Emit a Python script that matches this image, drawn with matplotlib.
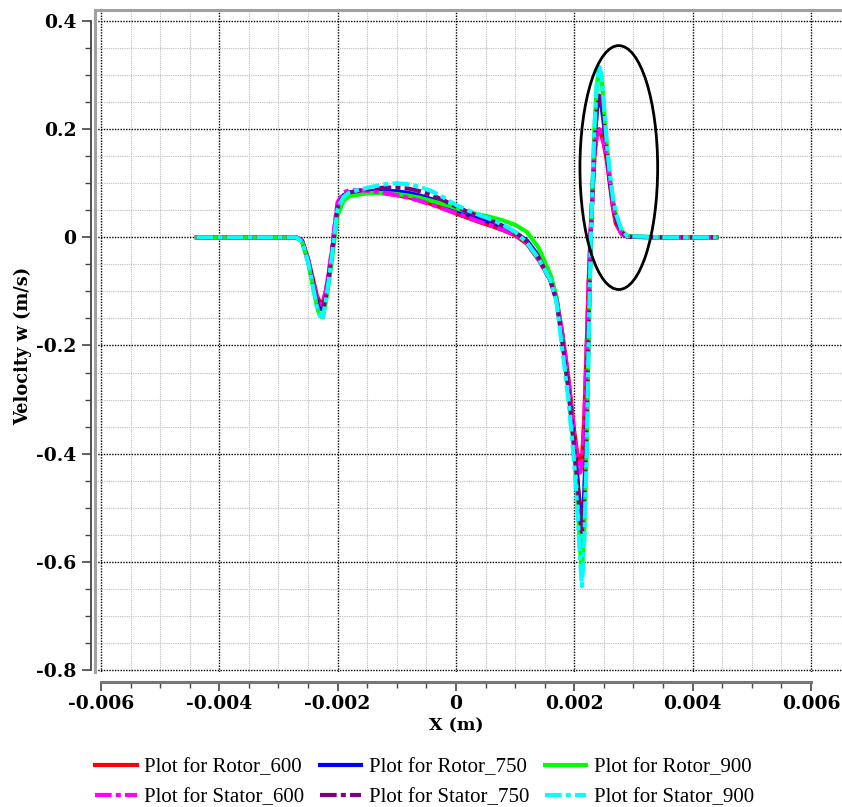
import matplotlib
matplotlib.use("Agg")
import matplotlib.pyplot as plt
from matplotlib.patches import Ellipse
from matplotlib.ticker import FixedLocator

plt.rcParams['axes.unicode_minus'] = False
plt.rcParams['font.family'] = ['DejaVu Serif']
plt.rcParams['font.weight'] = 'bold'
plt.rcParams['axes.labelweight'] = 'bold'
plt.rcParams['font.size'] = 13.5

# ---------------- data ----------------
x_m = [-0.00438, -0.0035, -0.0027, -0.0026, -0.0025, -0.0024, -0.00235, -0.0023, -0.00225, -0.0022,
       -0.00215, -0.0021, -0.00205, -0.002, -0.0019, -0.0018, -0.0016, -0.0014, -0.0012, -0.001,
       -0.0008, -0.0006, -0.0004, -0.0002, 0.0, 0.0002, 0.0004, 0.0006, 0.0008, 0.001,
       0.0012, 0.0014, 0.0016, 0.0017, 0.0018, 0.0019, 0.002, 0.00205, 0.0021, 0.00213,
       0.00217, 0.00221, 0.00224, 0.00228, 0.00234, 0.00238, 0.00242, 0.00246, 0.0025, 0.00255,
       0.0026, 0.00265, 0.0027, 0.0028, 0.0029, 0.0035, 0.0044]

rotor_600 = [0, 0, 0, -0.006, -0.04, -0.085, -0.108, -0.12, -0.12, -0.1,
             -0.068, -0.03, 0.015, 0.058, 0.078, 0.083, 0.084, 0.083, 0.081, 0.078,
             0.074, 0.068, 0.061, 0.053, 0.044, 0.036, 0.028, 0.021, 0.013, 0.004,
             -0.012, -0.042, -0.08, -0.115, -0.18, -0.26, -0.36, -0.4, -0.42, -0.41,
             -0.33, -0.2, -0.09, 0.02, 0.15, 0.19, 0.2, 0.188, 0.172, 0.142,
             0.1, 0.057, 0.026, 0.006, 0.001, 0, 0]

rotor_750 = [0, 0, 0, -0.007, -0.043, -0.093, -0.118, -0.132, -0.133, -0.11,
             -0.075, -0.035, 0.012, 0.056, 0.077, 0.083, 0.085, 0.086, 0.086, 0.085,
             0.082, 0.077, 0.07, 0.061, 0.051, 0.042, 0.034, 0.027, 0.019, 0.009,
             -0.006, -0.035, -0.08, -0.115, -0.19, -0.275, -0.38, -0.44, -0.51, -0.535,
             -0.47, -0.34, -0.17, 0.01, 0.17, 0.235, 0.26, 0.245, 0.21, 0.155,
             0.105, 0.065, 0.035, 0.009, 0.001, 0, 0]

rotor_900 = [0, 0, 0, -0.008, -0.045, -0.1, -0.128, -0.145, -0.148, -0.12,
             -0.085, -0.045, 0.0, 0.04, 0.068, 0.076, 0.08, 0.082, 0.082, 0.08,
             0.077, 0.073, 0.067, 0.061, 0.054, 0.047, 0.042, 0.037, 0.031, 0.023,
             0.01, -0.02, -0.07, -0.11, -0.19, -0.28, -0.4, -0.48, -0.58, -0.615,
             -0.54, -0.39, -0.2, 0.0, 0.2, 0.28, 0.315, 0.295, 0.24, 0.17,
             0.115, 0.072, 0.042, 0.012, 0.002, 0, 0]

stator_600 = [0, 0, 0, -0.006, -0.04, -0.088, -0.112, -0.124, -0.124, -0.1,
              -0.065, -0.025, 0.025, 0.065, 0.083, 0.087, 0.087, 0.085, 0.082, 0.078,
              0.073, 0.067, 0.06, 0.052, 0.045, 0.037, 0.029, 0.022, 0.014, 0.005,
              -0.01, -0.04, -0.08, -0.115, -0.18, -0.26, -0.37, -0.41, -0.435, -0.42,
              -0.34, -0.2, -0.09, 0.02, 0.15, 0.19, 0.204, 0.19, 0.175, 0.145,
              0.105, 0.06, 0.028, 0.006, 0.001, 0, 0]

stator_750 = [0, 0, 0, -0.007, -0.043, -0.094, -0.12, -0.134, -0.135, -0.112,
              -0.076, -0.035, 0.012, 0.056, 0.077, 0.083, 0.087, 0.09, 0.092, 0.092,
              0.09, 0.085, 0.078, 0.068, 0.057, 0.047, 0.038, 0.03, 0.021, 0.01,
              -0.008, -0.038, -0.082, -0.118, -0.195, -0.28, -0.39, -0.45, -0.52, -0.545,
              -0.48, -0.35, -0.17, 0.01, 0.17, 0.235, 0.262, 0.247, 0.212, 0.157,
              0.107, 0.066, 0.036, 0.009, 0.001, 0, 0]

stator_900 = [0, 0, 0, -0.008, -0.045, -0.1, -0.128, -0.145, -0.147, -0.118,
              -0.08, -0.038, 0.01, 0.052, 0.075, 0.083, 0.089, 0.094, 0.098, 0.1,
              0.098, 0.093, 0.085, 0.073, 0.06, 0.05, 0.041, 0.033, 0.023, 0.01,
              -0.01, -0.04, -0.08, -0.12, -0.21, -0.3, -0.42, -0.5, -0.6, -0.645,
              -0.56, -0.4, -0.2, 0.0, 0.2, 0.285, 0.315, 0.3, 0.245, 0.173,
              0.118, 0.075, 0.045, 0.013, 0.002, 0, 0]

series_labels = ["Plot for Rotor_600", "Plot for Rotor_750", "Plot for Rotor_900",
                 "Plot for Stator_600", "Plot for Stator_750", "Plot for Stator_900"]
series_colors = ["#ff0000", "#0000ff", "#00ff00", "#ff00ff", "#800080", "#00ffff"]

x_ticks = [-0.006, -0.004, -0.002, 0.0, 0.002, 0.004, 0.006]
x_ticklabels = ["-0.006", "-0.004", "-0.002", "0", "0.002", "0.004", "0.006"]
y_ticks = [0.4, 0.2, 0.0, -0.2, -0.4, -0.6, -0.8]
y_ticklabels = ["0.4", "0.2", "0", "-0.2", "-0.4", "-0.6", "-0.8"]

# ---------------- figure ----------------
W, H = 842, 807
fig = plt.figure(figsize=(W / 100, H / 100), dpi=100)
ax = fig.add_axes([95 / W, 1 - 672 / H, 1 - 95 / W, (672 - 10) / H])

ax.set_xlim(-0.0061, 0.006524)
ax.set_ylim(-0.8037, 0.4203)

series = [rotor_600, rotor_750, rotor_900, stator_600, stator_750, stator_900]
dashdot = (0, (4, 1, 1.2, 1))
handles = []
for i, (vals, lab, col) in enumerate(zip(series, series_labels, series_colors)):
    ls = '-' if i < 3 else dashdot
    h, = ax.plot(x_m, vals, color=col, lw=3.0, ls=ls, label=lab, zorder=3 + i)
    handles.append(h)

# ellipse annotation
ax.add_patch(Ellipse((0.002752, 0.129), 0.001313, 0.451, fill=False,
                     edgecolor='black', lw=2, zorder=10))

# ticks
ax.xaxis.set_major_locator(FixedLocator(x_ticks))
ax.yaxis.set_major_locator(FixedLocator(y_ticks))
ax.xaxis.set_minor_locator(FixedLocator([-0.006 + 0.0005 * k for k in range(25)]))
ax.yaxis.set_minor_locator(FixedLocator([-0.8 + 0.05 * k for k in range(25)]))
ax.set_xticklabels(x_ticklabels)
ax.set_yticklabels(y_ticklabels)

ax.tick_params(which='major', direction='out', length=6.5, width=1.2, color='#444444', pad=4)
ax.tick_params(axis='x', which='major', pad=3)
ax.tick_params(which='minor', direction='out', length=4, width=1.0, color='#444444')
ax.tick_params(axis='x', which='both', top=False)
ax.tick_params(axis='y', which='both', right=False)

# grid
ax.grid(which='major', color='black', ls=(0, (1, 1)), lw=1.0)
ax.grid(which='minor', color='#bdbdbd', ls=(0, (1, 1)), lw=0.8)
ax.set_axisbelow(True)

# spines
ax.spines['right'].set_visible(False)
ax.spines['top'].set_color('#a0a0a0')
ax.spines['top'].set_linewidth(2.2)
ax.spines['left'].set_position(('outward', 3))
ax.spines['left'].set_bounds(-0.8, 0.4)
ax.spines['left'].set_color('#444444')
ax.spines['left'].set_linewidth(1.3)
ax.spines['bottom'].set_position(('outward', 7))
ax.spines['bottom'].set_bounds(-0.006, 0.006)
ax.spines['bottom'].set_color('#777777')
ax.spines['bottom'].set_linewidth(2.2)
ax.plot([0, 0], [0, 1], transform=ax.transAxes, color='#a0a0a0', lw=2.2,
        clip_on=False, zorder=20)

ax.set_xlabel("X (m)", fontsize=12.5, fontweight='bold')
ax.set_ylabel("Velocity w (m/s)", fontsize=12.8, fontweight='bold')
# label centres: X label under x=0, Y label centred a little below axes middle
ax.xaxis.set_label_coords((456 - 95) / (W - 95), -(726 - 672) / 662, transform=ax.transAxes)
ax.xaxis.label.set_va('center')
ax.yaxis.set_label_coords(-(95 - 23) / (W - 95), 1 - (346 - 10) / 662, transform=ax.transAxes)
ax.yaxis.label.set_va('center')

# legend filled row by row (matplotlib fills columns first, so reorder)
order = [0, 3, 1, 4, 2, 5]
fig.legend(handles=[handles[k] for k in order], labels=[series_labels[k] for k in order],
           loc='lower center', bbox_to_anchor=(0.5 + 0.004, -0.018), ncol=3, frameon=False,
           prop=dict(family='Liberation Serif', weight='normal', size=15), handlelength=2.0,
           handletextpad=0.35, columnspacing=0.75, labelspacing=0.5,
           borderaxespad=0.3)

fig.savefig("out.png", dpi=100)
